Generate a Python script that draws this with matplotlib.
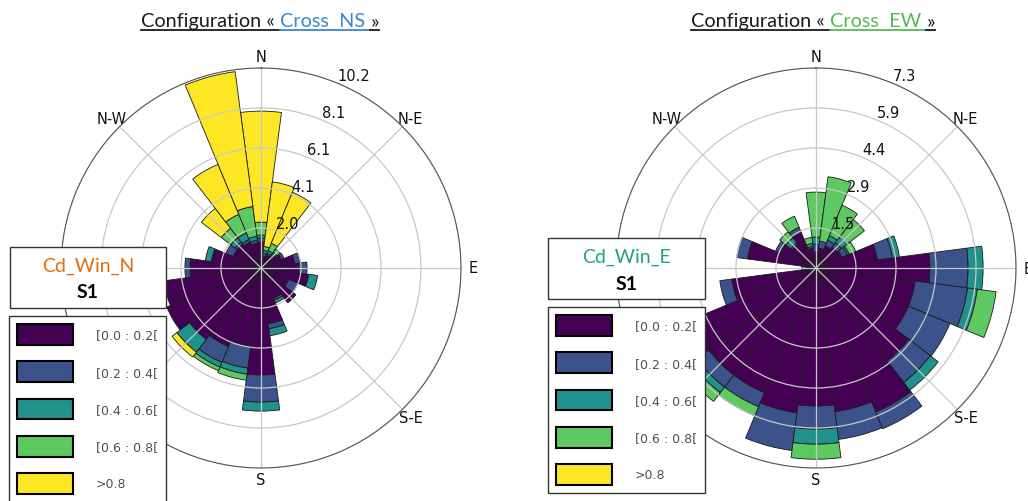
import matplotlib
matplotlib.use('Agg')
import matplotlib.pyplot as plt
import matplotlib.patches as mpatches
from matplotlib.lines import Line2D
import numpy as np

W, H = 1028, 502

# 24 sectors of 15 deg, clockwise from North
directions = list(range(0, 360, 15))
bins = ['[0.0 : 0.2[', '[0.2 : 0.4[', '[0.4 : 0.6[', '[0.6 : 0.8[', '>0.8']
bin_colors = ['#440154', '#3b528b', '#21918c', '#5ec962', '#fde725']
# W and S-W sit under the boxes in the reference, so they are left blank
compass = ['N', 'N-E', 'E', 'S-E', 'S', '', '', 'N-W']

# Configuration Cross NS (Cd_Win_N, S1) - frequency by sector for each Cd bin
ns_b0 = [1.33, 0.61, 0.71, 0.82, 1.12, 1.73, 1.94, 2.45, 1.53, 2.24, 1.68, 2.86,
         5.46, 4.03, 4.34, 4.59, 5.20, 5.00, 3.62, 2.55, 1.53, 1.53, 1.43, 1.28]
ns_b1 = [0.20, 0.15, 0.10, 0.10, 0.15, 0.26, 0.41, 0.00, 0.51, 0.00, 0.10, 0.26,
         1.38, 1.12, 0.87, 0.00, 0.00, 0.00, 0.26, 0.00, 0.41, 0.15, 0.15, 0.15]
ns_b2 = [0.15, 0.15, 0.15, 0.10, 0.00, 0.00, 0.00, 0.46, 0.00, 0.00, 0.15, 0.36,
         0.46, 0.31, 0.26, 0.82, 0.00, 0.00, 0.00, 0.31, 0.00, 0.26, 0.36, 0.20]
ns_b3 = [0.66, 0.20, 0.41, 0.20, 0.00, 0.00, 0.00, 0.00, 0.00, 0.00, 0.00, 0.00,
         0.00, 0.31, 0.20, 0.00, 0.00, 0.00, 0.00, 0.00, 0.00, 0.61, 1.02, 1.53]
ns_b4 = [5.66, 3.32, 2.81, 0.00, 0.00, 0.00, 0.00, 0.00, 0.00, 0.00, 0.00, 0.00,
         0.00, 0.00, 0.00, 0.31, 0.00, 0.00, 0.00, 0.00, 0.00, 1.28, 2.76, 6.94]
ns_rings = [2.04, 4.08, 6.12, 8.16, 10.2]
ns_ring_labels = ['2.0', '4.1', '6.1', '8.1', '10.2']

# Configuration Cross EW (Cd_Win_E, S1)
ew_b0 = [0.58, 0.73, 0.88, 0.95, 1.02, 2.26, 4.16, 3.65, 3.65, 4.27, 5.69, 5.29,
         5.04, 5.33, 4.93, 4.93, 5.11, 3.10, 0.33, 2.52, 1.42, 1.09, 1.39, 0.73]
ew_b1 = [0.29, 0.26, 0.22, 0.22, 0.22, 0.55, 1.39, 1.93, 1.64, 0.99, 0.66, 1.02,
         0.84, 1.39, 0.55, 0.55, 0.36, 0.44, 0.04, 0.40, 0.18, 0.07, 0.22, 0.07]
ew_b2 = [0.26, 0.00, 0.18, 0.29, 0.07, 0.26, 0.55, 0.36, 0.00, 0.36, 0.00, 0.00,
         0.55, 0.00, 0.00, 0.26, 0.00, 0.00, 0.15, 0.00, 0.00, 0.22, 0.00, 0.11]
ew_b3 = [1.64, 2.37, 1.20, 0.77, 0.26, 0.00, 0.00, 0.69, 0.00, 0.00, 0.00, 0.00,
         0.55, 0.00, 0.36, 0.40, 0.00, 0.00, 0.00, 0.00, 0.00, 0.29, 0.44, 0.22]
ew_b4 = [0.0] * 24
ew_rings = [1.46, 2.92, 4.38, 5.84, 7.3]
ew_ring_labels = ['1.5', '2.9', '4.4', '5.9', '7.3']

fig = plt.figure(figsize=(W / 100, H / 100), dpi=100)


def fx(x):
    return x / W


def fy(y):
    return 1 - y / H


def rose(left_px, data, rings, ring_labels):
    ax = fig.add_axes([fx(left_px), fy(469), 400 / W, 400 / H], projection='polar')
    ax.set_theta_zero_location('N')
    ax.set_theta_direction(-1)
    theta = np.deg2rad(directions)
    bottom = np.zeros(len(directions))
    for vals, col in zip(data, bin_colors):
        vals = np.array(vals)
        lw = np.where(vals > 0, 0.6, 0.0)
        ax.bar(theta, vals, width=np.deg2rad(15), bottom=bottom, color=col,
               edgecolor='#1a1a1a', linewidth=lw)
        bottom += vals
    ax.set_ylim(0, rings[-1])
    ax.set_yticks(rings)
    ax.set_yticklabels(ring_labels)
    ax.set_rlabel_position(22.5)
    ax.set_thetagrids(range(0, 360, 45), compass)
    ax.tick_params(axis='x', labelsize=10.5, pad=-2, colors='#111111')
    ax.tick_params(axis='y', labelsize=10.5, colors='#111111')
    ax.grid(color='#c8c8c8', linewidth=0.9)
    ax.spines['polar'].set_color('#555555')
    return ax


ax1 = rose(61, [ns_b0, ns_b1, ns_b2, ns_b3, ns_b4], ns_rings, ns_ring_labels)
ax2 = rose(616, [ew_b0, ew_b1, ew_b2, ew_b3, ew_b4], ew_rings, ew_ring_labels)

renderer = fig.canvas.get_renderer()
dark = '#1a1a1a'


def title(cx, name, name_color):
    kw = dict(fontsize=14.3, family='Lato')
    pieces = [('Configuration \u00ab', dark), (name, name_color), ('\u00bb', dark)]
    probe1 = fig.text(0, 0, 'x x', **kw)
    probe2 = fig.text(0, 0, 'xx', **kw)
    sp = probe1.get_window_extent(renderer).width - probe2.get_window_extent(renderer).width
    probe1.remove()
    probe2.remove()
    ts = [fig.text(0, fy(27), s, color=c, **kw) for s, c in pieces]
    ws = [t.get_window_extent(renderer).width for t in ts]
    total = sum(ws) + 2 * sp
    x = cx - total / 2
    for i, (t, w) in enumerate(zip(ts, ws)):
        t.set_x(fx(x))
        seg = w + (sp if i < 2 else 0)
        fig.add_artist(Line2D([fx(x), fx(x + seg)], [fy(30.5)] * 2,
                              color=pieces[i][1], lw=1.3))
        x += seg


title(260, 'Cross  NS', '#3d85c6')
title(813, 'Cross  EW', '#58b55a')


def info_box(x0, y0, x1, y1, name, color, y_name, y_s1):
    fig.add_artist(mpatches.Rectangle((fx(x0), fy(y1)), (x1 - x0) / W, (y1 - y0) / H,
                                      transform=fig.transFigure, facecolor='white',
                                      edgecolor='#333333', lw=1, zorder=4))
    cx = fx((x0 + x1) / 2)
    fig.text(cx, fy(y_name), name, color=color, fontsize=14, family='Lato',
             ha='center', va='center', zorder=5)
    fig.text(cx, fy(y_s1), 'S1', color='black', fontsize=14, family='Lato',
             weight='bold', ha='center', va='center', zorder=5)


info_box(10, 248, 166, 309, 'Cd_Win_N', '#e46c0a', 266, 293)
info_box(548, 239, 705, 300, 'Cd_Win_E', '#1fa57a', 257, 284)


def legend(x0, y0):
    handles = [mpatches.Patch(facecolor=c, edgecolor='black', linewidth=1.5, label=b)
               for c, b in zip(bin_colors, bins)]
    leg = fig.legend(handles=handles, loc='upper left', bbox_to_anchor=(fx(x0), fy(y0)),
                     borderaxespad=0, frameon=True, fancybox=False, fontsize=9,
                     handlelength=4.5, handleheight=2.2, labelspacing=1.3,
                     handletextpad=1.8, borderpad=0.65, labelcolor='#505050',
                     framealpha=1)
    leg.get_frame().set_edgecolor('#333333')
    leg.get_frame().set_linewidth(1)
    leg.set_zorder(5)


legend(9, 317)
legend(548, 308)

fig.savefig('out.png', dpi=100)
